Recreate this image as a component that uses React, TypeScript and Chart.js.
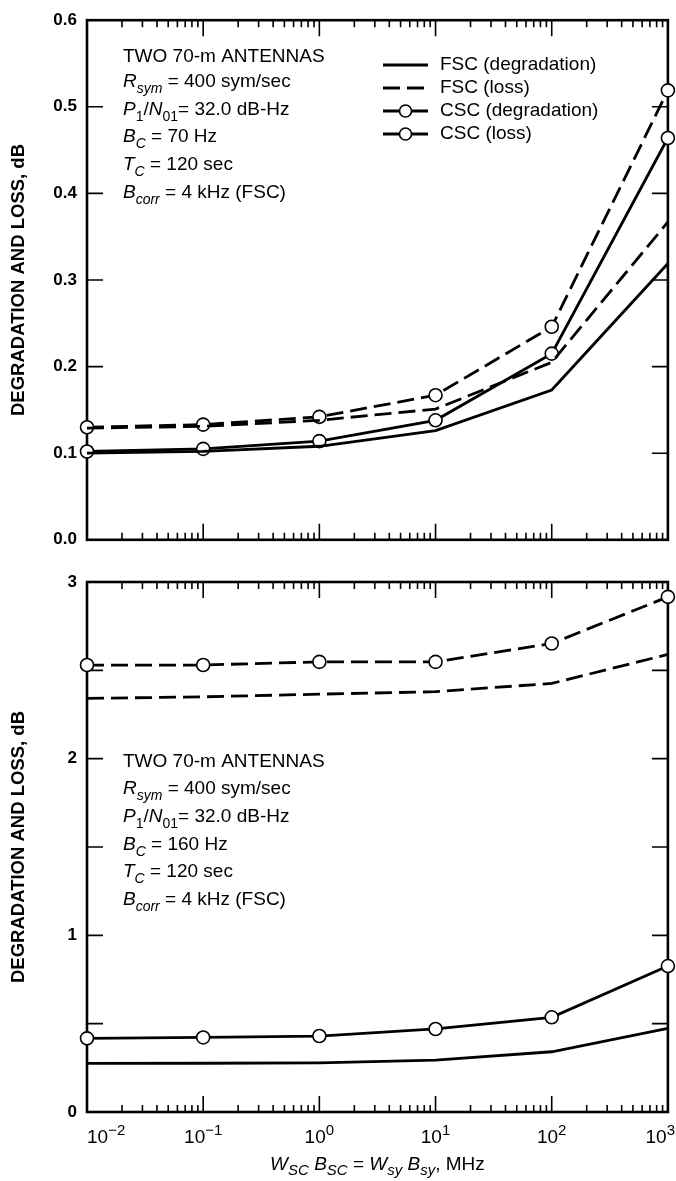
import { useEffect, useRef } from 'react';
import { Chart, registerables } from 'chart.js';

Chart.register(...registerables);

const FONT = '"Liberation Sans", Arial, Helvetica, sans-serif';

// ---------- data ----------
const xValues = [0.01, 0.1, 1, 10, 100, 1000];
const xDecades = [0.01, 0.1, 1, 10, 100, 1000];
const xExponents = ['\u22122', '\u22121', '0', '1', '2', '3'];
const xMinorMultipliers = [2, 3, 4, 5, 6, 7, 8, 9];

// top panel (B_C = 70 Hz)
const topFscDegradation = [0.1, 0.102, 0.108, 0.126, 0.173, 0.319];
const topFscLoss = [0.129, 0.131, 0.138, 0.151, 0.205, 0.367];
const topCscDegradation = [0.102, 0.105, 0.114, 0.138, 0.215, 0.464];
const topCscLoss = [0.13, 0.133, 0.142, 0.167, 0.246, 0.519];
const topYTicks = [0, 0.1, 0.2, 0.3, 0.4, 0.5, 0.6];
const topYLabels = ['0.0', '0.1', '0.2', '0.3', '0.4', '0.5', '0.6'];

// bottom panel (B_C = 160 Hz)
const botFscDegradation = [0.275, 0.276, 0.278, 0.294, 0.341, 0.474];
const botFscLoss = [2.341, 2.35, 2.365, 2.379, 2.426, 2.59];
const botCscDegradation = [0.417, 0.422, 0.43, 0.47, 0.536, 0.826];
const botCscLoss = [2.53, 2.53, 2.548, 2.548, 2.652, 2.916];
const botYTicks = [0, 0.5, 1, 1.5, 2, 2.5, 3];
const botYLabels = ['0', '', '1', '', '2', '', '3'];

const seriesLabels = ['FSC (degradation)', 'FSC (loss)', 'CSC (degradation)', 'CSC (loss)'];
const legendSolid = [true, false, true, true];
const yTitle = 'DEGRADATION AND LOSS, dB';

type Seg = { t: string; it?: boolean; sub?: boolean; sup?: boolean };

const topNotes: Seg[][] = [
  [{ t: 'TWO 70-m ANTENNAS' }],
  [{ t: 'R', it: true }, { t: 'sym', it: true, sub: true }, { t: ' = 400 sym/sec' }],
  [{ t: 'P', it: true }, { t: '1', sub: true }, { t: '/' }, { t: 'N', it: true }, { t: '01', sub: true }, { t: '= 32.0 dB-Hz' }],
  [{ t: 'B', it: true }, { t: 'C', it: true, sub: true }, { t: ' = 70 Hz' }],
  [{ t: 'T', it: true }, { t: 'C', it: true, sub: true }, { t: ' = 120 sec' }],
  [{ t: 'B', it: true }, { t: 'corr', it: true, sub: true }, { t: ' = 4 kHz (FSC)' }],
];
const botNotes: Seg[][] = [
  [{ t: 'TWO 70-m ANTENNAS' }],
  [{ t: 'R', it: true }, { t: 'sym', it: true, sub: true }, { t: ' = 400 sym/sec' }],
  [{ t: 'P', it: true }, { t: '1', sub: true }, { t: '/' }, { t: 'N', it: true }, { t: '01', sub: true }, { t: '= 32.0 dB-Hz' }],
  [{ t: 'B', it: true }, { t: 'C', it: true, sub: true }, { t: ' = 160 Hz' }],
  [{ t: 'T', it: true }, { t: 'C', it: true, sub: true }, { t: ' = 120 sec' }],
  [{ t: 'B', it: true }, { t: 'corr', it: true, sub: true }, { t: ' = 4 kHz (FSC)' }],
];
const xTitle: Seg[] = [
  { t: 'W', it: true }, { t: 'SC', it: true, sub: true }, { t: ' ' },
  { t: 'B', it: true }, { t: 'SC', it: true, sub: true }, { t: ' = ' },
  { t: 'W', it: true }, { t: 'sy', it: true, sub: true }, { t: ' ' },
  { t: 'B', it: true }, { t: 'sy', it: true, sub: true }, { t: ', MHz' },
];

// ---------- helpers ----------
function segFont(s: Seg, size: number, small: number) {
  return `${s.it ? 'italic ' : ''}${s.sub || s.sup ? small : size}px ${FONT}`;
}
function richWidth(ctx: CanvasRenderingContext2D, segs: Seg[], size: number, small: number) {
  let w = 0;
  for (const s of segs) {
    ctx.font = segFont(s, size, small);
    w += ctx.measureText(s.t).width;
  }
  return w;
}
function drawRich(ctx: CanvasRenderingContext2D, segs: Seg[], x: number, base: number, size: number, small: number, shift: number) {
  let cx = x;
  ctx.textBaseline = 'alphabetic';
  ctx.textAlign = 'left';
  for (const s of segs) {
    ctx.font = segFont(s, size, small);
    const dy = s.sub ? shift : s.sup ? -shift : 0;
    ctx.fillText(s.t, cx, base + dy);
    cx += ctx.measureText(s.t).width;
  }
}

interface PanelOpts {
  legend: boolean;
  notes: Seg[][];
  noteX: number;
  noteBaselines: number[];
  xLabels: boolean;
}

function makeFramePlugin() {
  return {
    id: 'frame',
    beforeDatasetsDraw(chart: any) {
      const { ctx, chartArea: a, scales } = chart;
      const x = scales.x, y = scales.y;
      ctx.save();
      ctx.strokeStyle = '#000';
      ctx.lineWidth = 1.6;
      ctx.setLineDash([]);
      ctx.beginPath();
      for (const t of x.ticks) {
        const px = x.getPixelForValue(t.value);
        if (px <= a.left + 1 || px >= a.right - 1) continue;
        const len = t.major ? 16 : 7;
        ctx.moveTo(px, a.bottom);
        ctx.lineTo(px, a.bottom - len);
        ctx.moveTo(px, a.top);
        ctx.lineTo(px, a.top + len);
      }
      for (const t of y.ticks) {
        const py = y.getPixelForValue(t.value);
        if (py <= a.top + 1 || py >= a.bottom - 1) continue;
        ctx.moveTo(a.left, py);
        ctx.lineTo(a.left + 16, py);
        ctx.moveTo(a.right, py);
        ctx.lineTo(a.right - 16, py);
      }
      ctx.stroke();
      ctx.lineWidth = 2.6;
      ctx.strokeRect(a.left, a.top, a.right - a.left, a.bottom - a.top);
      ctx.restore();
    },
  };
}

function makeOverlayPlugin(p: PanelOpts) {
  return {
    id: 'overlay',
    afterDatasetsDraw(chart: any) {
      const { ctx, chartArea: a, scales } = chart;
      ctx.save();
      ctx.fillStyle = '#000';
      ctx.strokeStyle = '#000';
      // notes
      p.notes.forEach((segs, i) => {
        drawRich(ctx, segs, p.noteX, p.noteBaselines[i], 19, 14, 6);
      });
      // legend
      if (p.legend) {
        const rows = [65, 88, 111, 134];
        chart.data.datasets.forEach((ds: any, i: number) => {
          const yy = rows[i];
          ctx.lineWidth = ds.borderWidth;
          ctx.lineCap = 'butt';
          ctx.setLineDash(legendSolid[i] ? [] : ds.borderDash || []);
          ctx.beginPath();
          ctx.moveTo(383, yy);
          ctx.lineTo(428, yy);
          ctx.stroke();
          ctx.setLineDash([]);
          if (ds.pointRadius > 0) {
            ctx.beginPath();
            ctx.arc(405.5, yy, ds.pointRadius - 0.5, 0, Math.PI * 2);
            ctx.fillStyle = '#fff';
            ctx.fill();
            ctx.lineWidth = ds.pointBorderWidth;
            ctx.stroke();
            ctx.fillStyle = '#000';
          }
          ctx.font = `19px ${FONT}`;
          ctx.textAlign = 'left';
          ctx.textBaseline = 'middle';
          ctx.fillText(ds.label, 440, yy);
        });
      }
      // x tick labels + x title
      if (p.xLabels) {
        const x = scales.x;
        xDecades.forEach((v, i) => {
          const segs: Seg[] = [{ t: '10' }, { t: xExponents[i], sup: true }];
          const w = richWidth(ctx, segs, 19, 15);
          const px = x.getPixelForValue(v);
          let lx = px - w / 2;
          lx = Math.max(a.left, Math.min(675 - w, lx));
          drawRich(ctx, segs, lx, a.bottom + 31, 19, 15, 8);
        });
        const tw = richWidth(ctx, xTitle, 19, 15);
        drawRich(ctx, xTitle, (a.left + a.right) / 2 - tw / 2, a.bottom + 58, 19, 15, 5);
      }
      ctx.restore();
    },
  };
}

function makeDatasets(fd: number[], fl: number[], cd: number[], cl: number[]) {
  const dash = [17, 7];
  const pts = (arr: number[]) => xValues.map((x, i) => ({ x, y: arr[i] }));
  const base = {
    borderColor: '#000',
    backgroundColor: '#000',
    borderWidth: 2.8,
    tension: 0,
    fill: false,
    clip: false as any,
  };
  return [
    { ...base, label: seriesLabels[0], data: pts(fd), borderDash: [], pointRadius: 0 },
    { ...base, label: seriesLabels[1], data: pts(fl), borderDash: dash, pointRadius: 0 },
    {
      ...base, label: seriesLabels[2], data: pts(cd), borderDash: [], pointRadius: 6.5,
      pointBackgroundColor: '#fff', pointBorderColor: '#000', pointBorderWidth: 1.6,
    },
    {
      ...base, label: seriesLabels[3], data: pts(cl), borderDash: dash, pointRadius: 6.5,
      pointBackgroundColor: '#fff', pointBorderColor: '#000', pointBorderWidth: 1.6,
    },
  ];
}

function makeConfig(opts: {
  datasets: any[];
  yMin: number; yMax: number; yTicks: number[]; yLabels: string[];
  padTop: number; xHeight: number; panel: PanelOpts;
}): any {
  return {
    type: 'line',
    data: { datasets: opts.datasets },
    options: {
      responsive: false,
      animation: false,
      devicePixelRatio: 1,
      events: [],
      layout: { padding: { top: opts.padTop, right: 6, left: 0, bottom: 0 } },
      plugins: { legend: { display: false }, tooltip: { enabled: false }, title: { display: false } },
      scales: {
        x: {
          type: 'logarithmic',
          min: xDecades[0],
          max: xDecades[xDecades.length - 1],
          grid: { display: false, drawTicks: false },
          border: { display: false },
          ticks: { display: false, autoSkip: false },
          afterBuildTicks: (s: any) => {
            const ticks: any[] = [];
            xDecades.forEach((d, i) => {
              ticks.push({ value: d, major: true });
              if (i < xDecades.length - 1) {
                xMinorMultipliers.forEach((m) => ticks.push({ value: d * m, major: false }));
              }
            });
            s.ticks = ticks;
          },
          afterFit: (s: any) => {
            s.height = opts.xHeight;
          },
        },
        y: {
          type: 'linear',
          min: opts.yMin,
          max: opts.yMax,
          grid: { display: false, drawTicks: false },
          border: { display: false },
          afterBuildTicks: (s: any) => {
            s.ticks = opts.yTicks.map((v) => ({ value: v }));
          },
          ticks: {
            autoSkip: false,
            color: '#000',
            padding: 10,
            font: { family: FONT, size: 17, weight: 'bold' },
            callback: (_v: any, i: number) => opts.yLabels[i],
          },
          title: {
            display: true,
            text: yTitle,
            color: '#000',
            font: { family: FONT, size: 18.5, weight: 'bold' },
            padding: { top: 8, bottom: 0 },
          },
          afterFit: (s: any) => {
            s.width = 87;
          },
        },
      },
    },
    plugins: [makeFramePlugin(), makeOverlayPlugin(opts.panel)],
  };
}

export default function App() {
  const topRef = useRef<HTMLCanvasElement>(null);
  const botRef = useRef<HTMLCanvasElement>(null);

  useEffect(() => {
    Chart.defaults.font.family = FONT;
    const c1 = new Chart(
      topRef.current as HTMLCanvasElement,
      makeConfig({
        datasets: makeDatasets(topFscDegradation, topFscLoss, topCscDegradation, topCscLoss),
        yMin: 0, yMax: 0.6, yTicks: topYTicks, yLabels: topYLabels,
        padTop: 12, xHeight: 13,
        panel: { legend: true, notes: topNotes, noteX: 123, noteBaselines: [62, 87, 115, 142, 170, 198], xLabels: false },
      })
    );
    const c2 = new Chart(
      botRef.current as HTMLCanvasElement,
      makeConfig({
        datasets: makeDatasets(botFscDegradation, botFscLoss, botCscDegradation, botCscLoss),
        yMin: 0, yMax: 3, yTicks: botYTicks, yLabels: botYLabels,
        padTop: 22, xHeight: 69,
        panel: { legend: false, notes: botNotes, noteX: 123, noteBaselines: [207, 234, 262, 290, 317, 345], xLabels: true },
      })
    );
    return () => {
      c1.destroy();
      c2.destroy();
    };
  }, []);

  return (
    <div style={{ position: 'absolute', left: 0, top: 0, width: 676, height: 1181, background: '#fff' }}>
      <canvas ref={topRef} width={676} height={560} style={{ position: 'absolute', left: 0, top: 0, width: 676, height: 560 }} />
      <canvas ref={botRef} width={676} height={621} style={{ position: 'absolute', left: 0, top: 560, width: 676, height: 621 }} />
    </div>
  );
}
